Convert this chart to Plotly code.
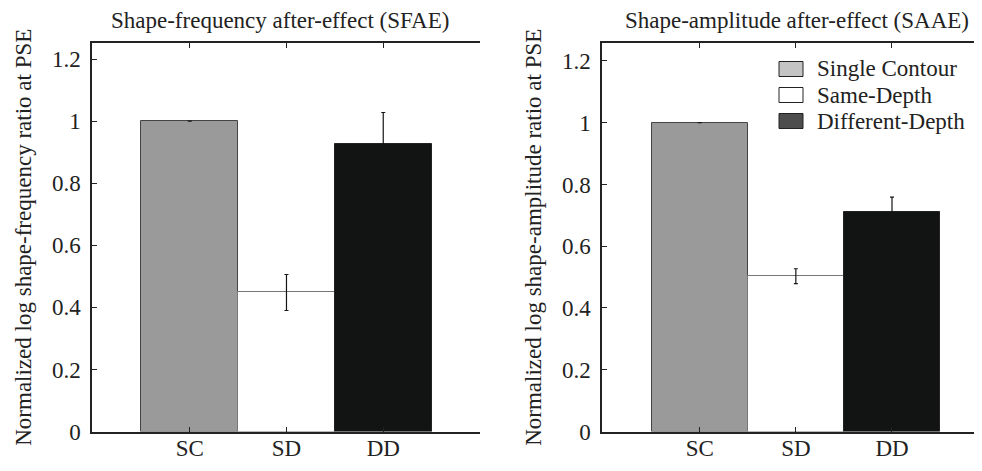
import plotly.graph_objects as go

categories = ["SC", "SD", "DD"]
cat_pos = [0, 1, 2]
sfae_values = [1.0, 0.448, 0.926]
sfae_err = [None, 0.058, 0.102]
saae_values = [1.0, 0.503, 0.710]
saae_err = [None, 0.024, 0.049]
y_ticks = [0, 0.2, 0.4, 0.6, 0.8, 1.0, 1.2]
y_ticktext = ["0", "0.2", "0.4", "0.6", "0.8", "1", "1.2"]
legend_names = ["Single Contour", "Same-Depth", "Different-Depth"]

bar_colors = ["#999a99", "#ffffff", "#111413"]
bar_lines = ["#444444", "#777777", "#222222"]
legend_colors = ["#c4c4c4", "#ffffff", "#4d4d4d"]

FONT = "Liberation Serif"
FS = 23
TXT = "#222222"

# page has an 8px body margin on every side; size the figure so nothing overflows
OFF = 8
W, H = 982 - 2 * OFF, 471 - 2 * OFF


def px(xp):
    return (xp - OFF) / W


def py(yp):
    return 1 - (yp - OFF) / H


fig = go.Figure()

for vals, errs, xa, ya in [(sfae_values, sfae_err, "x", "y"), (saae_values, saae_err, "x2", "y2")]:
    fig.add_trace(go.Bar(
        x=cat_pos, y=vals, width=1,
        marker=dict(color=bar_colors, line=dict(color=bar_lines, width=1)),
        error_y=dict(type="data", array=errs, visible=True, color="#151515", thickness=1.2, width=2),
        xaxis=xa, yaxis=ya, showlegend=False,
    ))

dom_y = [py(431.5), py(43)]

axis_common = dict(linecolor="#222222", linewidth=1.5, ticks="inside",
                   ticklen=5, tickcolor="#222222", showgrid=False, zeroline=False,
                   automargin=False,
                   tickfont=dict(family=FONT, size=FS, color=TXT))

fig.update_layout(
    width=W, height=H,
    margin=dict(l=0, r=0, t=0, b=0, autoexpand=False),
    plot_bgcolor="white", paper_bgcolor="white",
    bargap=0,
    xaxis=dict(domain=[px(92), px(480)], range=[-1.01, 3.0], tickvals=cat_pos, ticktext=categories,
               showline=True, mirror="ticks", anchor="y", ticklabelstandoff=-5, **axis_common),
    yaxis=dict(domain=dom_y, range=[0, 1.252], tickvals=y_ticks, ticktext=y_ticktext,
               showline=True, mirror=False, anchor="x", ticklabelstandoff=5,
               title=dict(text="Normalized log shape-frequency ratio at PSE",
                          font=dict(family=FONT, size=FS, color=TXT), standoff=14),
               **axis_common),
    # right-hand frame of the left panel with its inside ticks
    yaxis3=dict(domain=dom_y, range=[0, 1.252], tickvals=y_ticks, overlaying="y", anchor="x",
                side="right", showline=True, showticklabels=False, **axis_common),
    xaxis2=dict(domain=[px(602), 1.0], range=[-1.016, 2.853], tickvals=cat_pos, ticktext=categories,
                showline=True, mirror="ticks", anchor="y2", ticklabelstandoff=-5, **axis_common),
    yaxis2=dict(domain=dom_y, range=[0, 1.258], tickvals=y_ticks, ticktext=y_ticktext,
                showline=True, mirror=False, anchor="x2", side="left", ticklabelstandoff=5,
                title=dict(text="Normalized log shape-amplitude ratio at PSE",
                           font=dict(family=FONT, size=FS, color=TXT), standoff=14),
                **axis_common),
)

# titles
fig.add_annotation(text="Shape-frequency after-effect (SFAE)", xref="paper", yref="paper",
                   x=px(280), y=py(20), showarrow=False,
                   xanchor="center", yanchor="middle",
                   font=dict(family=FONT, size=FS, color=TXT))
fig.add_annotation(text="Shape-amplitude after-effect (SAAE)", xref="paper", yref="paper",
                   x=px(797), y=py(20), showarrow=False,
                   xanchor="center", yanchor="middle",
                   font=dict(family=FONT, size=FS, color=TXT))

# legend (manual)
row_y = [69, 95, 121]
for name, col, yc in zip(legend_names, legend_colors, row_y):
    fig.add_shape(type="rect", xref="paper", yref="paper",
                  x0=px(779), x1=px(803), y0=py(yc + 7.5), y1=py(yc - 7.5),
                  fillcolor=col, line=dict(color="#222222", width=1))
    fig.add_annotation(text=name, xref="paper", yref="paper", x=px(815), y=py(yc),
                       xanchor="left", yanchor="middle", showarrow=False,
                       font=dict(family=FONT, size=FS, color=TXT))

fig.write_html("out.html", config={"displayModeBar": False})
